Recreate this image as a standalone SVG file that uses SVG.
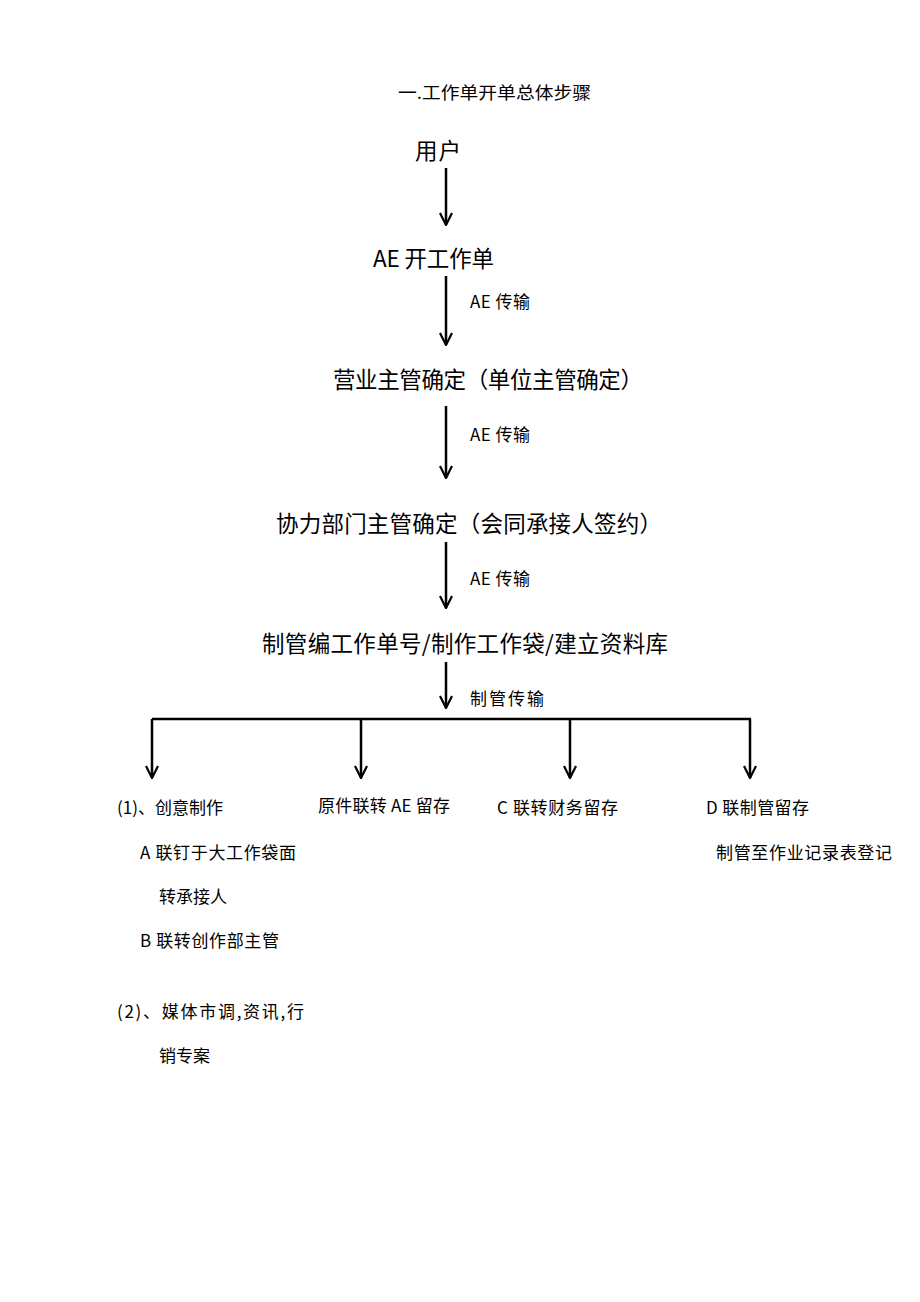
<svg xmlns="http://www.w3.org/2000/svg" width="920" height="1302" viewBox="0 0 920 1302">
<style>
text{font-family:"Noto Sans CJK SC","Noto Sans CJK JP",sans-serif;fill:#000}
.h{font-size:22.5px}
.s{font-size:17px}
.l{stroke:#000;stroke-width:2.5;fill:none}
</style>
<defs>
<marker id="v" viewBox="0 0 14 14" refX="7" refY="13" markerWidth="14" markerHeight="14" markerUnits="userSpaceOnUse" orient="0"><path d="M1,1 L7,13 L13,1" fill="none" stroke="#000" stroke-width="2.2"/></marker></defs>
<rect width="920" height="1302" fill="#fff"/>
<text x="398" y="99" class="s" textLength="193" lengthAdjust="spacingAndGlyphs">一.工作单开单总体步骤</text>
<g id="n1"><text x="415" y="159" class="h" textLength="46">用户</text></g>
<g id="n2"><text x="373" y="267" class="h" textLength="121">AE 开工作单</text></g>
<g id="n3"><text x="333" y="388" class="h" textLength="310">营业主管确定（单位主管确定）</text></g>
<g id="n4"><text x="276" y="532" class="h" textLength="386">协力部门主管确定（会同承接人签约）</text></g>
<g id="n5"><text x="262" y="652" class="h" textLength="406">制管编工作单号/制作工作袋/建立资料库</text></g>
<g id="b1"><text x="117" y="814" class="s">(1)、创意制作</text>
<text x="140" y="859" class="s" textLength="156">A 联钉于大工作袋面</text>
<text x="159" y="903" class="s">转承接人</text>
<text x="140" y="947" class="s" textLength="139">B 联转创作部主管</text>
<text x="117" y="1018" class="s" textLength="187">(2)、媒体市调,资讯,行</text>
<text x="159" y="1062" class="s">销专案</text></g>
<g id="b2"><text x="318" y="812" class="s" textLength="132">原件联转 AE 留存</text></g>
<g id="b3"><text x="497" y="814" class="s" textLength="121">C 联转财务留存</text></g>
<g id="b4"><text x="706" y="814" class="s" textLength="103">D 联制管留存</text>
<text x="716" y="859" class="s" textLength="176">制管至作业记录表登记</text></g>
<g id="connectors">
<path class="l" d="M446,168V225" marker-end="url(#v)"/>
<path class="l" d="M446,276V345" marker-end="url(#v)"/>
<path class="l" d="M446,406V478" marker-end="url(#v)"/>
<path class="l" d="M446,542V608" marker-end="url(#v)"/>
<path class="l" d="M446,662V708" marker-end="url(#v)"/>
<path class="l" d="M152,719H751"/>
<path class="l" d="M152,719V778" marker-end="url(#v)"/>
<path class="l" d="M361,719V778" marker-end="url(#v)"/>
<path class="l" d="M570,719V778" marker-end="url(#v)"/>
<path class="l" d="M750,719V778" marker-end="url(#v)"/>
<text x="470" y="308" class="s" textLength="60">AE 传输</text>
<text x="470" y="441" class="s" textLength="60">AE 传输</text>
<text x="470" y="585" class="s" textLength="60">AE 传输</text>
<text x="470" y="705" class="s" textLength="74">制管传输</text>
</g>
</svg>
